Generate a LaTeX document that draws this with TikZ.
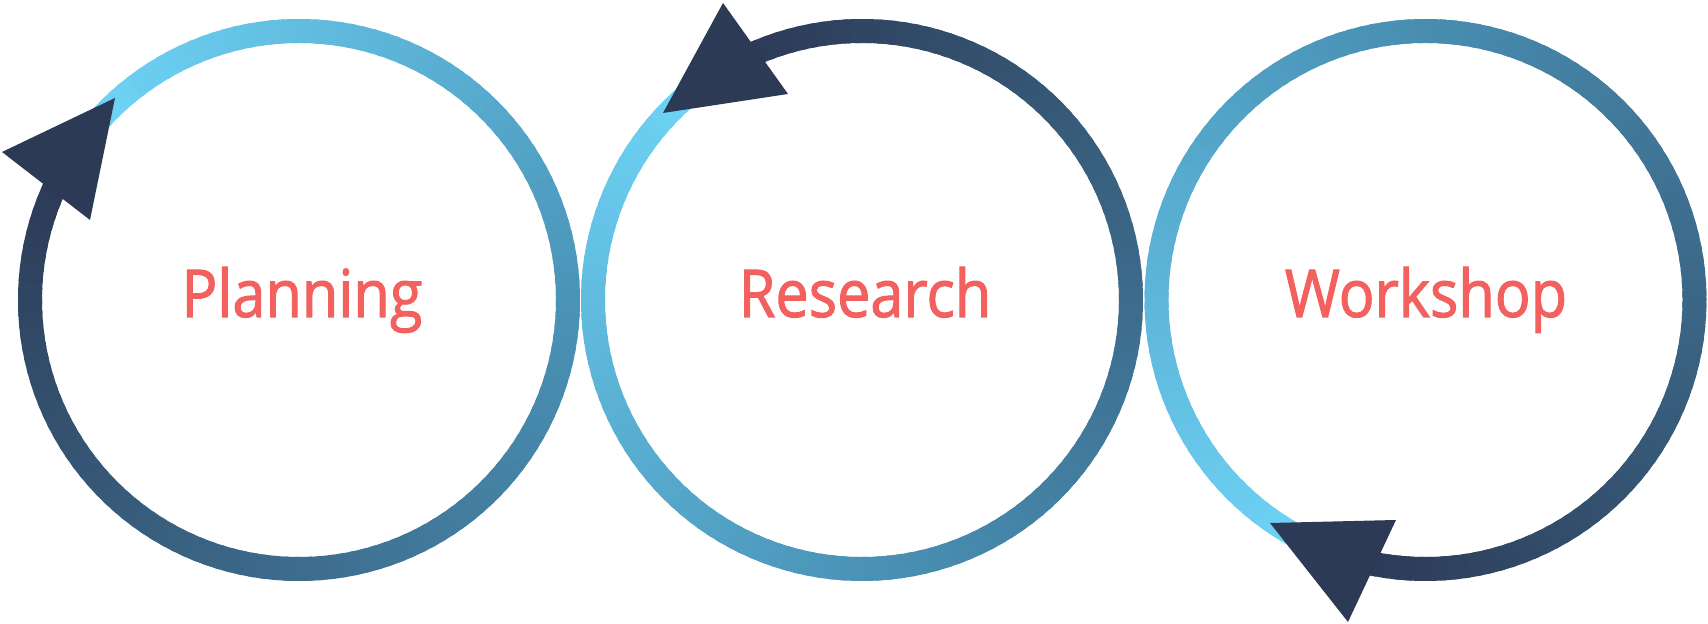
\documentclass[tikz,border=0pt]{standalone}
\usepackage{fontspec}
\setmainfont{Open Sans}[FakeStretch=0.9, FakeBold=1.6]
\usetikzlibrary{calc}
\definecolor{ringlight}{RGB}{110,212,246}
\definecolor{ringmid}{RGB}{74,148,184}
\definecolor{ringdark}{RGB}{44,58,86}
\definecolor{labelred}{RGB}{243,97,95}
\tikzset{
  ring/.style={line width=12pt},
  arrow head/.style={fill=ringdark},
  stage label/.style={text=labelred, font=\fontsize{33}{36}\selectfont, anchor=base},
}
% ring drawn as short arcs, light -> mid -> dark
\newcommand{\gradring}[3]{%
  \foreach \k in {0,...,143}{
    \pgfmathsetmacro{\angA}{#2+(#3-#2)*(\k/144)}
    \pgfmathsetmacro{\angB}{#2+(#3-#2)*((\k+1.5)/144)}
    \pgfmathsetmacro{\tval}{\k/143}
    \ifdim\tval pt<0.4pt
      \pgfmathsetmacro{\mixpct}{\tval/0.4*100}
      \colorlet{ringcol}{ringmid!\mixpct!ringlight}
    \else
      \pgfmathsetmacro{\mixpct}{(\tval-0.4)/0.6*100}
      \colorlet{ringcol}{ringdark!\mixpct!ringmid}
    \fi
    \draw[ring, ringcol] ($(#1)+(\angA:269)$) arc[start angle=\angA, end angle=\angB, radius=269];
  }%
}
\begin{document}
\begin{tikzpicture}[x=0.5pt, y=0.5pt]
  \useasboundingbox (0,0) rectangle (1708,624);
  \fill[white] (0,0) rectangle (1708,624);

  % Centres
  \coordinate (planC) at (299,324);
  \coordinate (resC) at (862,324);
  \coordinate (workC) at (1425.5,324);

  % Rings
  \gradring{planC}{140}{-208}
  \gradring{resC}{127}{477}
  \gradring{workC}{245}{-105}

  % Arrow heads
  \fill[arrow head] (2,472) -- (115,526) -- (90,404) -- cycle;
  \fill[arrow head] (723,621) -- (788,530) -- (663,511) -- cycle;
  \fill[arrow head] (1270,101) -- (1396,104) -- (1348,2) -- cycle;

  % Labels
  \node[stage label] (planning) at (302,307) {Planning};
  \node[stage label] (research) at (865,307) {Research};
  \node[stage label] (workshop) at (1426,307) {Workshop};
\end{tikzpicture}
\end{document}
